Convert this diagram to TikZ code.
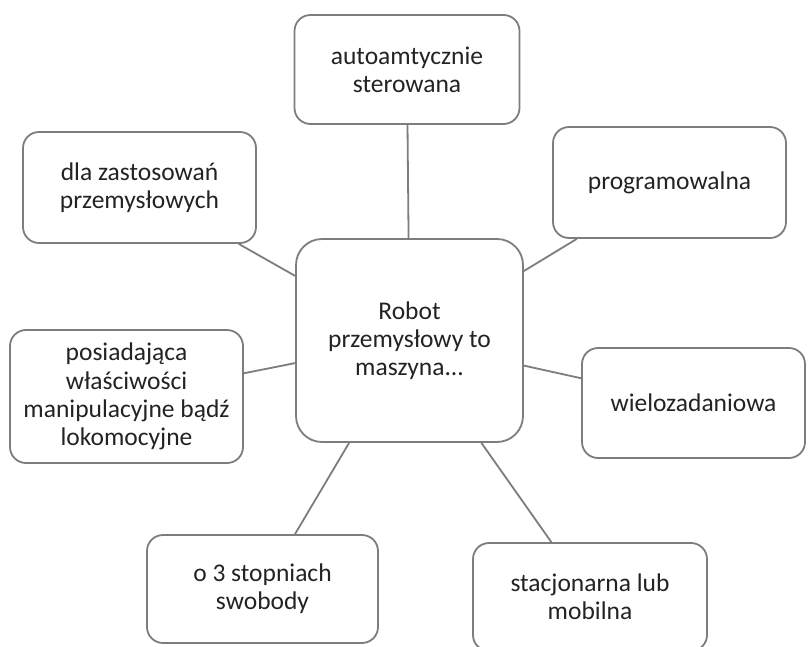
\documentclass[tikz,border=0pt]{standalone}
\usepackage{fontspec}
\setmainfont{Carlito}
\definecolor{edgegray}{RGB}{125,125,125}
\definecolor{txtgray}{RGB}{35,35,35}
\begin{document}
\begin{tikzpicture}[x=1pt,y=-1pt,
  box/.style={draw=edgegray, line width=1.8pt, rounded corners=16pt, fill=white,
    align=center, text=txtgray, inner sep=0pt,
    font=\fontsize{25.5}{28.3}\selectfont},
  hub/.style={box, rounded corners=26pt},
  link/.style={draw=edgegray, line width=1.8pt}]
\useasboundingbox (0,0) rectangle (808,646);
\clip (0,0) rectangle (808,646);
\node[hub, minimum width=227pt, minimum height=203pt] (c) at (409.5,340.5) {Robot\\przemysłowy to\\maszyna...};
\node[box, minimum width=225pt, minimum height=109pt] (auto) at (407,69.5) {autoamtycznie\\sterowana};
\node[box, minimum width=233pt, minimum height=111pt] (dla) at (139.5,187.5) {dla zastosowań\\przemysłowych};
\node[box, minimum width=233pt, minimum height=111pt] (prog) at (669.5,182.5) {programowalna};
\node[box, minimum width=233pt, minimum height=133pt] (pos) at (126.5,396.5) {posiadająca\\właściwości\\manipulacyjne bądź\\lokomocyjne};
\node[box, minimum width=223pt, minimum height=110pt] (wiel) at (693.5,403) {wielozadaniowa};
\node[box, minimum width=231pt, minimum height=108pt] (o3) at (262.5,589) {o 3 stopniach\\swobody};
\node[box, minimum width=234pt, minimum height=108pt] (stac) at (590,597) {stacjonarna lub\\mobilna};
\draw[link] (auto) -- (c);
\draw[link] (dla) -- (c);
\draw[link] (prog) -- (c);
\draw[link] (pos) -- (c);
\draw[link] (wiel) -- (c);
\draw[link] (o3) -- (c);
\draw[link] (stac) -- (c);
\end{tikzpicture}
\end{document}
